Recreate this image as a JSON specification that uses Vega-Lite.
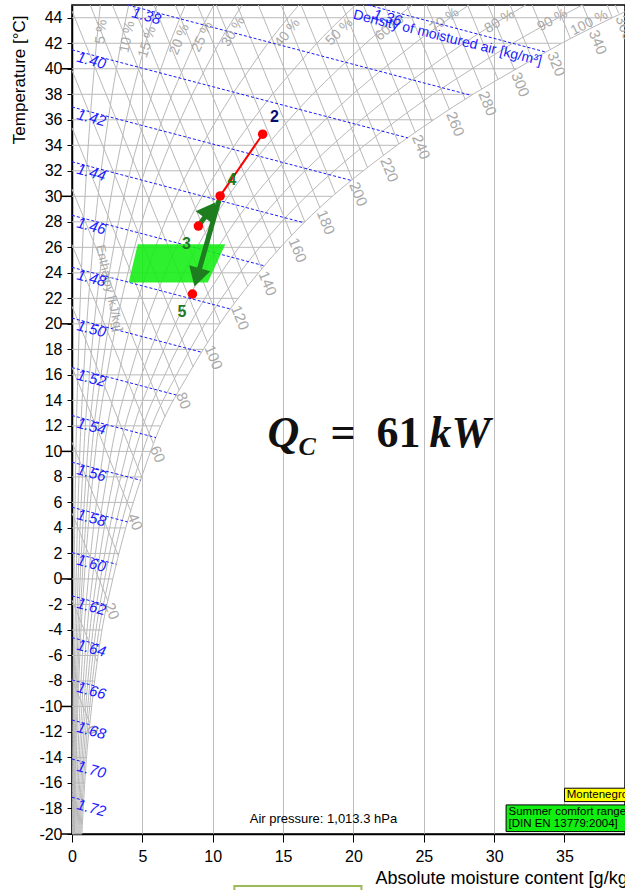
{
"$schema":"https://vega.github.io/schema/vega-lite/v6.json",
"width":553,"height":829,
"autosize":{"type":"none"},
"padding":{"left":72,"top":5,"right":0,"bottom":56},
"background":"white",
"config":{"font":"Liberation Sans","view":{"stroke":"#000","strokeWidth":1.5}},
"datasets":{
"rh":[
{"t":-20,"p5":0.035,"p10":0.07,"p15":0.105,"p20":0.14,"p25":0.175,"p30":0.21,"p40":0.28,"p50":0.35,"p60":0.42,"p70":0.49,"p80":0.56,"p90":0.63,"p100":0.7},
{"t":-15,"p5":0.048,"p10":0.097,"p15":0.145,"p20":0.193,"p25":0.241,"p30":0.29,"p40":0.386,"p50":0.483,"p60":0.579,"p70":0.676,"p80":0.772,"p90":0.869,"p100":0.965},
{"t":-10,"p5":0.07,"p10":0.14,"p15":0.21,"p20":0.28,"p25":0.35,"p30":0.42,"p40":0.56,"p50":0.7,"p60":0.84,"p70":0.98,"p80":1.12,"p90":1.26,"p100":1.4},
{"t":-5,"p5":0.099,"p10":0.199,"p15":0.298,"p20":0.397,"p25":0.496,"p30":0.596,"p40":0.794,"p50":0.993,"p60":1.191,"p70":1.39,"p80":1.588,"p90":1.787,"p100":1.985},
{"t":0,"p5":0.145,"p10":0.29,"p15":0.435,"p20":0.58,"p25":0.725,"p30":0.87,"p40":1.16,"p50":1.45,"p60":1.74,"p70":2.03,"p80":2.32,"p90":2.61,"p100":2.9},
{"t":4,"p5":0.191,"p10":0.382,"p15":0.573,"p20":0.764,"p25":0.955,"p30":1.146,"p40":1.528,"p50":1.91,"p60":2.292,"p70":2.674,"p80":3.056,"p90":3.438,"p100":3.82},
{"t":8,"p5":0.248,"p10":0.495,"p15":0.743,"p20":0.99,"p25":1.238,"p30":1.485,"p40":1.98,"p50":2.475,"p60":2.97,"p70":3.465,"p80":3.96,"p90":4.455,"p100":4.95},
{"t":12,"p5":0.315,"p10":0.63,"p15":0.945,"p20":1.26,"p25":1.575,"p30":1.89,"p40":2.52,"p50":3.15,"p60":3.78,"p70":4.41,"p80":5.04,"p90":5.67,"p100":6.3},
{"t":16,"p5":0.413,"p10":0.825,"p15":1.238,"p20":1.65,"p25":2.063,"p30":2.475,"p40":3.3,"p50":4.125,"p60":4.95,"p70":5.775,"p80":6.6,"p90":7.425,"p100":8.25},
{"t":20,"p5":0.525,"p10":1.05,"p15":1.575,"p20":2.1,"p25":2.625,"p30":3.15,"p40":4.2,"p50":5.25,"p60":6.3,"p70":7.35,"p80":8.4,"p90":9.45,"p100":10.5},
{"t":24,"p5":0.663,"p10":1.325,"p15":1.988,"p20":2.65,"p25":3.313,"p30":3.975,"p40":5.3,"p50":6.625,"p60":7.95,"p70":9.275,"p80":10.6,"p90":11.925,"p100":13.25},
{"t":28,"p5":0.828,"p10":1.655,"p15":2.483,"p20":3.31,"p25":4.138,"p30":4.965,"p40":6.62,"p50":8.275,"p60":9.93,"p70":11.585,"p80":13.24,"p90":14.895,"p100":16.55},
{"t":30,"p5":0.925,"p10":1.85,"p15":2.775,"p20":3.7,"p25":4.625,"p30":5.55,"p40":7.4,"p50":9.25,"p60":11.1,"p70":12.95,"p80":14.8,"p90":16.65,"p100":18.5},
{"t":32,"p5":1.035,"p10":2.07,"p15":3.105,"p20":4.14,"p25":5.175,"p30":6.21,"p40":8.28,"p50":10.35,"p60":12.42,"p70":14.49,"p80":16.56,"p90":18.63,"p100":20.7},
{"t":34,"p5":1.155,"p10":2.31,"p15":3.465,"p20":4.62,"p25":5.775,"p30":6.93,"p40":9.24,"p50":11.55,"p60":13.86,"p70":16.17,"p80":18.48,"p90":20.79,"p100":23.1},
{"t":36,"p5":1.285,"p10":2.57,"p15":3.855,"p20":5.14,"p25":6.425,"p30":7.71,"p40":10.28,"p50":12.85,"p60":15.42,"p70":17.99,"p80":20.56,"p90":23.13,"p100":25.7},
{"t":38,"p5":1.425,"p10":2.85,"p15":4.275,"p20":5.7,"p25":7.125,"p30":8.55,"p40":11.4,"p50":14.25,"p60":17.1,"p70":19.95,"p80":22.8,"p90":25.65,"p100":28.5},
{"t":40,"p5":1.58,"p10":3.16,"p15":4.74,"p20":6.32,"p25":7.9,"p30":9.48,"p40":12.64,"p50":15.8,"p60":18.96,"p70":22.12,"p80":25.28,"p90":28.44,"p100":31.6},
{"t":42,"p5":1.74,"p10":3.48,"p15":5.22,"p20":6.96,"p25":8.7,"p30":10.44,"p40":13.92,"p50":17.4,"p60":20.88,"p70":24.36,"p80":27.84,"p90":31.32,"p100":34.8},
{"t":44,"p5":1.92,"p10":3.84,"p15":5.76,"p20":7.68,"p25":9.6,"p30":11.52,"p40":15.36,"p50":19.2,"p60":23.04,"p70":26.88,"p80":30.72,"p90":34.56,"p100":38.4},
{"t":45,"p5":2.015,"p10":4.03,"p15":6.045,"p20":8.06,"p25":10.075,"p30":12.09,"p40":16.12,"p50":20.15,"p60":24.18,"p70":28.21,"p80":32.24,"p90":36.27,"p100":40.3}
],
"iso":[{"t":-20,"x":0,"xb":0.7},{"t":-18,"x":0,"xb":0.8},{"t":-16,"x":0,"xb":0.9},{"t":-14,"x":0,"xb":1.03},{"t":-12,"x":0,"xb":1.2},{"t":-10,"x":0,"xb":1.4},{"t":-8,"x":0,"xb":1.62},{"t":-6,"x":0,"xb":1.85},{"t":-4,"x":0,"xb":2.12},{"t":-2,"x":0,"xb":2.48},{"t":0,"x":0,"xb":2.9},{"t":2,"x":0,"xb":3.35},{"t":4,"x":0,"xb":3.82},{"t":6,"x":0,"xb":4.38},{"t":8,"x":0,"xb":4.95},{"t":10,"x":0,"xb":5.55},{"t":12,"x":0,"xb":6.3},{"t":14,"x":0,"xb":7.2},{"t":16,"x":0,"xb":8.25},{"t":18,"x":0,"xb":9.35},{"t":20,"x":0,"xb":10.5},{"t":22,"x":0,"xb":11.8},{"t":24,"x":0,"xb":13.25},{"t":26,"x":0,"xb":14.85},{"t":28,"x":0,"xb":16.55},{"t":30,"x":0,"xb":18.5},{"t":32,"x":0,"xb":20.7},{"t":34,"x":0,"xb":23.1},{"t":36,"x":0,"xb":25.7},{"t":38,"x":0,"xb":28.5},{"t":40,"x":0,"xb":31.6},{"t":42,"x":0,"xb":34.8},{"t":44,"x":0,"xb":38.4}],
"enth":[
{"h":0,"x":0,"t":-7.87,"xb":1.27,"tb":-11.3},
{"h":10,"x":0,"t":-1.67,"xb":1.79,"tb":-6.5},
{"h":20,"x":0,"t":5.16,"xb":2.54,"tb":-1.7},
{"h":30,"x":0,"t":10.71,"xb":3.3,"tb":1.8},
{"h":40,"x":0,"t":16.59,"xb":4.18,"tb":5.3},
{"h":50,"x":0,"t":21.37,"xb":4.95,"tb":8.0},
{"h":60,"x":0,"t":26.21,"xb":5.78,"tb":10.6},
{"h":70,"x":0,"t":30.57,"xb":6.62,"tb":12.7},
{"h":80,"x":0,"t":35.37,"xb":7.62,"tb":14.8},
{"h":90,"x":0,"t":39.87,"xb":8.6,"tb":16.65},
{"h":100,"x":0,"t":44.53,"xb":9.64,"tb":18.5},
{"h":110,"x":1.29,"t":45,"xb":10.53,"tb":20.05},
{"h":120,"x":2.87,"t":45,"xb":11.54,"tb":21.6},
{"h":130,"x":4.32,"t":45,"xb":12.49,"tb":22.95},
{"h":140,"x":5.82,"t":45,"xb":13.49,"tb":24.3},
{"h":150,"x":7.34,"t":45,"xb":14.53,"tb":25.6},
{"h":160,"x":8.92,"t":45,"xb":15.62,"tb":26.9},
{"h":170,"x":10.25,"t":45,"xb":16.55,"tb":28.0},
{"h":180,"x":11.73,"t":45,"xb":17.62,"tb":29.1},
{"h":190,"x":13.24,"t":45,"xb":18.72,"tb":30.2},
{"h":200,"x":14.86,"t":45,"xb":19.93,"tb":31.3},
{"h":210,"x":16.28,"t":45,"xb":21.0,"tb":32.25},
{"h":220,"x":17.77,"t":45,"xb":22.14,"tb":33.2},
{"h":230,"x":19.19,"t":45,"xb":23.23,"tb":34.1},
{"h":240,"x":20.7,"t":45,"xb":24.4,"tb":35.0},
{"h":250,"x":22.2,"t":45,"xb":25.57,"tb":35.9},
{"h":260,"x":23.78,"t":45,"xb":26.82,"tb":36.8},
{"h":270,"x":25.2,"t":45,"xb":27.94,"tb":37.6},
{"h":280,"x":26.68,"t":45,"xb":29.12,"tb":38.4},
{"h":290,"x":28.11,"t":45,"xb":30.28,"tb":39.15},
{"h":300,"x":29.56,"t":45,"xb":31.45,"tb":39.9},
{"h":310,"x":31.13,"t":45,"xb":32.72,"tb":40.7},
{"h":320,"x":32.7,"t":45,"xb":34.0,"tb":41.5},
{"h":330,"x":34.45,"t":45,"xb":35.43,"tb":42.35},
{"h":340,"x":36.29,"t":45,"xb":36.96,"tb":43.2},
{"h":350,"x":38.03,"t":45,"xb":38.4,"tb":44.0},
{"h":360,"x":38.6,"t":45,"xb":38.85,"tb":44.35}
],
"enthlab":[
{"h":0,"x":1.27,"t":-11.3},{"h":20,"x":2.54,"t":-1.7},{"h":40,"x":4.18,"t":5.3},{"h":60,"x":5.78,"t":10.6},{"h":80,"x":7.62,"t":14.8},{"h":100,"x":9.64,"t":18.5},{"h":120,"x":11.54,"t":21.6},{"h":140,"x":13.49,"t":24.3},{"h":160,"x":15.62,"t":26.9},{"h":180,"x":17.62,"t":29.1},{"h":200,"x":19.93,"t":31.3},{"h":220,"x":22.14,"t":33.2},{"h":240,"x":24.4,"t":35.0},{"h":260,"x":26.82,"t":36.8},{"h":280,"x":29.12,"t":38.4},{"h":300,"x":31.45,"t":39.9},{"h":320,"x":34.0,"t":41.5},{"h":340,"x":36.96,"t":43.2},{"h":360,"x":38.85,"t":44.35}
],
"dens":[
{"d":"1.36","x":21.03,"t":45,"xb":33.7,"tb":41.3},
{"d":"1.38","x":3.97,"t":45,"xb":28.35,"tb":37.92},
{"d":"1.40","x":0,"t":41.49,"xb":23.87,"tb":34.58},
{"d":"1.42","x":0,"t":37.0,"xb":19.86,"tb":31.24},
{"d":"1.44","x":0,"t":32.71,"xb":16.47,"tb":27.93},
{"d":"1.46","x":0,"t":28.51,"xb":13.7,"tb":24.54},
{"d":"1.48","x":0,"t":24.43,"xb":11.26,"tb":21.16},
{"d":"1.50","x":0,"t":20.45,"xb":9.23,"tb":17.77},
{"d":"1.52","x":0,"t":16.57,"xb":7.41,"tb":14.42},
{"d":"1.54","x":0,"t":12.81,"xb":5.97,"tb":11.08},
{"d":"1.56","x":0,"t":9.15,"xb":4.87,"tb":7.74},
{"d":"1.58","x":0,"t":5.62,"xb":3.95,"tb":4.47},
{"d":"1.60","x":0,"t":2.06,"xb":3.16,"tb":1.15},
{"d":"1.62","x":0,"t":-1.33,"xb":2.47,"tb":-2.05},
{"d":"1.64","x":0,"t":-4.6,"xb":1.96,"tb":-5.17},
{"d":"1.66","x":0,"t":-7.92,"xb":1.58,"tb":-8.38},
{"d":"1.68","x":0,"t":-11.06,"xb":1.25,"tb":-11.42},
{"d":"1.70","x":0,"t":-14.12,"xb":1.0,"tb":-14.41},
{"d":"1.72","x":0,"t":-17.12,"xb":0.83,"tb":-17.36}
],
"denslab":[
{"d":"1.36","x":21.42,"t":44.31},{"d":"1.38","x":4.29,"t":44.43},{"d":"1.40","x":0.38,"t":40.94},{"d":"1.42","x":0.38,"t":36.45},{"d":"1.44","x":0.38,"t":32.16},{"d":"1.46","x":0.38,"t":27.96},{"d":"1.48","x":0.38,"t":23.88},{"d":"1.50","x":0.38,"t":19.9},{"d":"1.52","x":0.38,"t":16.02},{"d":"1.54","x":0.38,"t":12.26},{"d":"1.56","x":0.38,"t":8.6},{"d":"1.58","x":0.38,"t":5.07},{"d":"1.60","x":0.38,"t":1.51},{"d":"1.62","x":0.38,"t":-1.88},{"d":"1.64","x":0.38,"t":-5.15},{"d":"1.66","x":0.38,"t":-8.47},{"d":"1.68","x":0.38,"t":-11.61},{"d":"1.70","x":0.38,"t":-14.67},{"d":"1.72","x":0.38,"t":-17.67}
],
"rhlab":[
{"p":5,"l":"5 %","x":2.09,"t":42.9},{"p":10,"l":"10 %","x":3.94,"t":42.5},{"p":15,"l":"15 %","x":5.36,"t":42.1},{"p":20,"l":"20 %","x":7.64,"t":42.3},{"p":25,"l":"25 %","x":9.27,"t":42.5},{"p":30,"l":"30 %","x":11.47,"t":42.9},{"p":40,"l":"40 %","x":15.31,"t":42.8},{"p":50,"l":"50 %","x":19.0,"t":42.9},{"p":60,"l":"60 %","x":22.56,"t":43.2},{"p":70,"l":"70 %","x":26.47,"t":43.8},{"p":80,"l":"80 %","x":30.38,"t":43.7},{"p":90,"l":"90 %","x":34.14,"t":43.8},{"p":100,"l":"100 %","x":36.77,"t":43.6}
],
"maj":[{"t":-20,"x":-0.76,"xb":0},{"t":-10,"x":-0.76,"xb":0},{"t":0,"x":-0.76,"xb":0},{"t":10,"x":-0.76,"xb":0},{"t":20,"x":-0.76,"xb":0},{"t":30,"x":-0.76,"xb":0},{"t":40,"x":-0.76,"xb":0}],
"zone":[{"t":23.25,"x":4.03,"xb":9.65},{"t":26.25,"x":4.67,"xb":10.9}],
"pts":[{"id":"2","x":13.55,"t":34.87},{"id":"4","x":10.53,"t":30.03},{"id":"3","x":8.98,"t":27.67},{"id":"5","x":8.56,"t":22.34}],
"ptlab":[{"id":"2","x":14.39,"t":36.2},{"id":"3","x":8.13,"t":26.27},{"id":"4","x":11.37,"t":31.3},{"id":"5","x":7.81,"t":20.9}],
"redline":[{"x":13.55,"t":34.87,"xb":10.53,"tb":30.03}],
"shafts":[{"a":"34","x":8.98,"t":27.67,"xb":9.81,"tb":28.93},{"a":"45","x":10.45,"t":29.7,"xb":8.89,"tb":23.65}],
"heads":[{"a":"34","x":9.81,"t":28.93},{"a":"45","x":8.89,"t":23.65}]
},
"encoding":{
 "x":{"field":"x","type":"quantitative","scale":{"domain":[0,39.3],"nice":false,"zero":false},
  "axis":{"values":[0,5,10,15,20,25,30,35],"title":"Absolute moisture content [g/kg]","titleFontSize":18,"titleFontWeight":"normal","titleColor":"#000","titleAlign":"left","titleX":303,"titleY":49,"titleBaseline":"alphabetic","labelFontSize":16,"labelColor":"#000","labelPadding":6,"labelFlush":false,"labelOverlap":false,"tickColor":"#000","tickSize":8,"domainColor":"#000","domainWidth":1.5,"grid":true,"gridColor":"#bdbdbd","gridWidth":1}},
 "y":{"field":"t","type":"quantitative","scale":{"domain":[-20,45],"nice":false,"zero":false},
  "axis":{"values":[-20,-18,-16,-14,-12,-10,-8,-6,-4,-2,0,2,4,6,8,10,12,14,16,18,20,22,24,26,28,30,32,34,36,38,40,42,44],"labelExpr":"'' + datum.value","title":"Temperature [°C]","titleFontSize":17,"titleFontWeight":"normal","titleColor":"#000","titleAngle":-90,"titleAlign":"right","titleBaseline":"top","titleX":-61,"titleY":10,"labelFontSize":16,"labelColor":"#000","labelPadding":5,"labelOverlap":false,"labelFlush":false,"tickColor":"#000","tickSize":5,"domainColor":"#000","domainWidth":1.5,"grid":false}}
},
"layer":[
{"data":{"name":"rh"},"transform":[{"fold":["p5","p10","p15","p20","p25","p30","p40","p50","p60","p70","p80","p90","p100"],"as":["k","x"]}],
 "mark":{"type":"line","color":"#b9b9b9","strokeWidth":1,"interpolate":"monotone"},
 "encoding":{"detail":{"field":"k","type":"nominal"}}},
{"data":{"name":"iso"},"mark":{"type":"rule","color":"#b9b9b9","strokeWidth":1},"encoding":{"x2":{"field":"xb"}}},
{"data":{"name":"enth"},"mark":{"type":"rule","color":"#b9b9b9","strokeWidth":1},"encoding":{"x2":{"field":"xb"},"y2":{"field":"tb"}}},
{"data":{"name":"dens"},"mark":{"type":"rule","color":"#1a1aff","strokeWidth":1,"strokeDash":[3,2]},"encoding":{"x2":{"field":"xb"},"y2":{"field":"tb"}}},
{"data":{"name":"maj"},"mark":{"type":"rule","color":"#000","strokeWidth":1.5},"encoding":{"x2":{"field":"xb"}}},
{"data":{"name":"enthlab"},"mark":{"type":"text","color":"#a9a9a9","fontSize":15,"angle":68,"align":"left","baseline":"middle","dx":3},
 "encoding":{"text":{"field":"h","type":"quantitative"}}},
{"data":{"name":"rhlab"},"mark":{"type":"text","color":"#a9a9a9","fontSize":14,"align":"center","baseline":"middle"},
 "encoding":{"text":{"field":"l","type":"nominal"},
  "angle":{"field":"p","type":"quantitative","scale":{"domain":[5,10,15,20,25,30,40,50,60,70,80,90,100],"range":[-84,-79,-73,-68,-64,-59,-52,-45,-40,-36,-32,-29,-27]}}}},
{"data":{"values":[{"l":"Enthalpy [kJ/kg]","x":2.66,"t":22.8}]},"mark":{"type":"text","color":"#a9a9a9","fontSize":12.5,"angle":78,"align":"center","baseline":"middle"},
 "encoding":{"text":{"field":"l","type":"nominal"}}},
{"data":{"name":"zone"},"mark":{"type":"area","orient":"horizontal","color":"#11ee11","opacity":0.88},"encoding":{"x2":{"field":"xb"}}},
{"data":{"name":"denslab"},"mark":{"type":"text","color":"#1a1aff","fontSize":15,"fontStyle":"italic","angle":15,"align":"left","baseline":"middle"},
 "encoding":{"text":{"field":"d","type":"nominal"}}},
{"data":{"values":[{"l":"Density of moistured air [kg/m³]","x":20.0,"t":44.24}]},"mark":{"type":"text","color":"#1a1aff","fontSize":14,"angle":14,"align":"left","baseline":"middle"},
 "encoding":{"text":{"field":"l","type":"nominal"}}},
{"data":{"name":"redline"},"mark":{"type":"rule","color":"#ff0000","strokeWidth":2},"encoding":{"x2":{"field":"xb"},"y2":{"field":"tb"}}},
{"data":{"name":"shafts"},"mark":{"type":"rule","color":"#1e7d1e","strokeWidth":5},"encoding":{"x2":{"field":"xb"},"y2":{"field":"tb"}}},
{"data":{"name":"heads"},"mark":{"type":"point","shape":"triangle-up","filled":true,"color":"#1e7d1e","opacity":1,"size":480},
 "encoding":{"angle":{"field":"a","type":"ordinal","scale":{"domain":["34","45"],"range":[36,196]}}}},
{"data":{"name":"pts"},"mark":{"type":"point","shape":"circle","filled":true,"color":"#ff0000","opacity":1,"size":90}},
{"data":{"name":"ptlab"},"mark":{"type":"text","fontSize":16,"fontWeight":"bold","align":"center","baseline":"middle"},
 "encoding":{"text":{"field":"id","type":"nominal"},
  "color":{"field":"id","type":"nominal","scale":{"domain":["2","3","4","5"],"range":["#0b0b6e","#1f7a1f","#1f7a1f","#1f7a1f"]},"legend":null}}},
{"data":{"values":[{"l":"Q","x":13.89,"t":10.35},{"l":"kW","x":25.4,"t":10.35}]},"mark":{"type":"text","font":"Liberation Serif","fontSize":44,"fontWeight":"bold","fontStyle":"italic","color":"#111","align":"left","baseline":"alphabetic"},
 "encoding":{"text":{"field":"l","type":"nominal"}}},
{"data":{"values":[{"l":"C","x":16.09,"t":9.72}]},"mark":{"type":"text","font":"Liberation Serif","fontSize":26,"fontWeight":"bold","fontStyle":"italic","color":"#111","align":"left","baseline":"alphabetic"},
 "encoding":{"text":{"field":"l","type":"nominal"}}},
{"data":{"values":[{"l":"=","x":18.37,"t":10.35},{"l":"61","x":21.64,"t":10.35}]},"mark":{"type":"text","font":"Liberation Serif","fontSize":44,"fontWeight":"bold","color":"#111","align":"left","baseline":"alphabetic"},
 "encoding":{"text":{"field":"l","type":"nominal"}}},
{"data":{"values":[{"l":"Air pressure: 1,013.3 hPa","x":17.87,"t":-18.82}]},"mark":{"type":"text","fontSize":13,"color":"#000","align":"center","baseline":"middle"},
 "encoding":{"text":{"field":"l","type":"nominal"}}},
{"data":{"values":[{"k":"Montenegro","x":35.0,"xb":40,"t":-16.41,"tb":-17.46},{"k":"Summer","x":30.85,"xb":40,"t":-17.72,"tb":-19.81}]},"mark":{"type":"rect","stroke":"#000","strokeWidth":1},
 "encoding":{"x2":{"field":"xb"},"y2":{"field":"tb"},
  "fill":{"field":"k","type":"nominal","scale":{"domain":["Montenegro","Summer"],"range":["#ffff00","#11ee11"]},"legend":null}}},
{"data":{"values":[{"l":"Montenegro","x":35.16,"t":-16.94},{"l":"Summer comfort range","x":31.02,"t":-18.24},{"l":"[DIN EN 13779:2004]","x":31.02,"t":-19.25}]},"mark":{"type":"text","fontSize":11.5,"color":"#000","align":"left","baseline":"middle"},
 "encoding":{"text":{"field":"l","type":"nominal"}}},
{"data":{"values":[{"x":11.54,"xb":20.57,"t":-24.07,"tb":-26}]},"mark":{"type":"rect","fill":"#ffffff","stroke":"#9bbb59","strokeWidth":2},
 "encoding":{"x2":{"field":"xb"},"y2":{"field":"tb"}}}
]
}
